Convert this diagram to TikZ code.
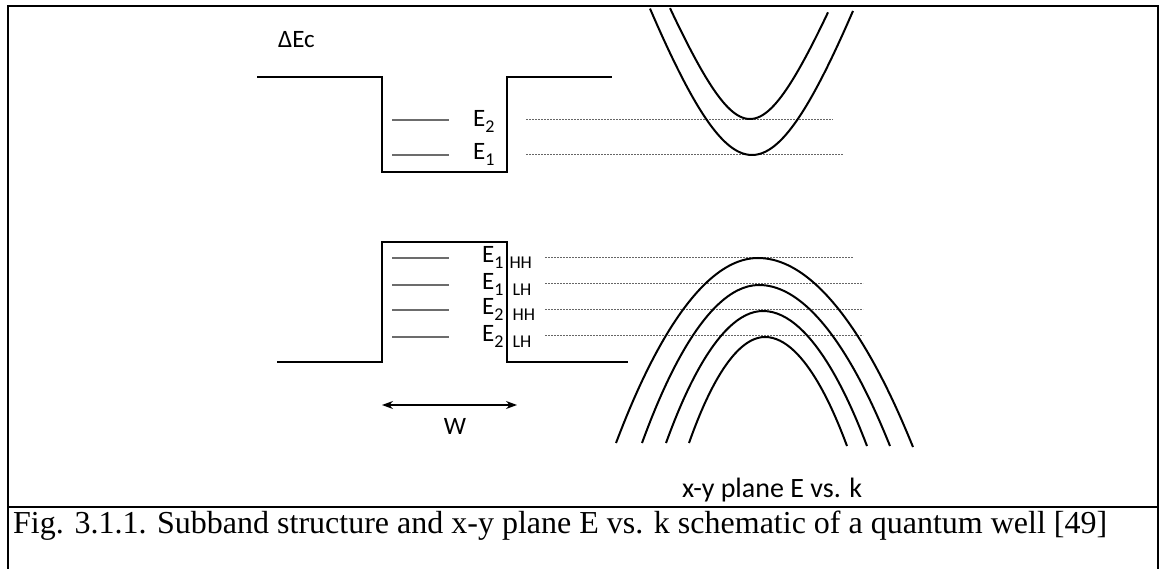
\documentclass[tikz,border=0pt]{standalone}
\usepackage{fontspec}
\setmainfont{Liberation Serif}
\newfontfamily\diagfont{Carlito}
\usepackage{tikz}
\usetikzlibrary{positioning,arrows.meta}
\tikzset{
  frame/.style={line width=2.3pt,black},
  band/.style={line width=2.2pt,black,line join=miter},
  level/.style={line width=1.3pt,gray!85!black},
  dlevel/.style={line width=1pt,gray!80!black,dash pattern=on 2pt off 1pt},
  disp/.style={line width=2pt,black},
  lbl/.style={font=\diagfont\fontsize{25}{30}\selectfont,inner sep=0pt,anchor=base west},
  figcap/.style={font=\fontsize{32}{36}\selectfont,inner sep=0pt,anchor=base west},
  wdim/.style={{Stealth[length=11pt,width=8pt]}-{Stealth[length=11pt,width=8pt]},line width=1.1pt},
}
\newcommand{\lsub}[1]{\raisebox{-6pt}{\fontsize{18}{20}\selectfont #1}}

\begin{document}
\begin{tikzpicture}[x=1pt,y=-1pt]
  \useasboundingbox (0,0) rectangle (1160,569);
  \draw[frame] (8,569) -- (8,6) -- (1158,6) -- (1158,569);
  \draw[frame] (8,507) -- (1158,507);

  \node[lbl] (dec) at (278,48) {ΔEc};
  \draw[band] (257,77) -- (382,77) -- (382,172) -- (507,172) -- (507,77) -- (612,77);
  \draw[band] (277,362) -- (382,362) -- (382,242) -- (507,242) -- (507,362) -- (628,362);

  \foreach \y in {120,155}
    \draw[level] (392,\y) -- (449,\y);
  \foreach \y in {258,285,310,337}
    \draw[level] (392,\y) -- (449,\y);

  \node[lbl] (ec2) at (473,127) {E\lsub{2}};
  \node[lbl] (ec1) at (473,160) {E\lsub{1}};
  \node[lbl] (ev1h) at (482,263) {E\lsub{1\hspace{6pt}HH}};
  \node[lbl] (ev1l) at (482,290) {E\lsub{1\hspace{9pt}LH}};
  \node[lbl] (ev2h) at (482,315) {E\lsub{2\hspace{9pt}HH}};
  \node[lbl] (ev2l) at (482,342) {E\lsub{2\hspace{9pt}LH}};

  \draw[dlevel] (526,120) -- (833,120);
  \draw[dlevel] (526,155) -- (843,155);
  \draw[dlevel] (545,258) -- (853,258);
  \draw[dlevel] (545,284) -- (863,284);
  \draw[dlevel] (545,310) -- (863,310);
  \draw[dlevel] (545,336) -- (863,336);

  \draw[disp] plot[domain=-80:78,samples=80]
    ({750+\x},{119-2.5*(50*sqrt(1+(\x/50)^2)-50)});
  \draw[disp] plot[domain=-102:101,samples=80]
    ({752+\x},{155-2.95*(80*sqrt(1+(\x/80)^2)-80)});

  \coordinate (vl1) at (616,443); \coordinate (vt1) at (758,258); \coordinate (vr1) at (913,447);
  \coordinate (vl2) at (642,443); \coordinate (vt2) at (759,285); \coordinate (vr2) at (890,446);
  \coordinate (vl3) at (666,443); \coordinate (vt3) at (763,311); \coordinate (vr3) at (867,446);
  \coordinate (vl4) at (689,443); \coordinate (vt4) at (765,337); \coordinate (vr4) at (847,446);
  \foreach \i in {1,...,4}
    \draw[disp] (vl\i) parabola bend (vt\i) (vr\i);

  \coordinate (wl) at (382,405);
  \coordinate (wr) at (517,405);
  \draw[wdim] (wl) -- (wr);
  \node[lbl,anchor=base] (wlab) at (455,435) {W};

  \node[lbl,font=\diagfont\fontsize{28}{32}\selectfont] (ekcap) at (682,497) {x-y plane E vs. k};
  \node[figcap] (cap) at (13,533) {Fig. 3.1.1. Subband structure and x-y plane E vs. k schematic of a quantum well [49]};
\end{tikzpicture}
\end{document}
